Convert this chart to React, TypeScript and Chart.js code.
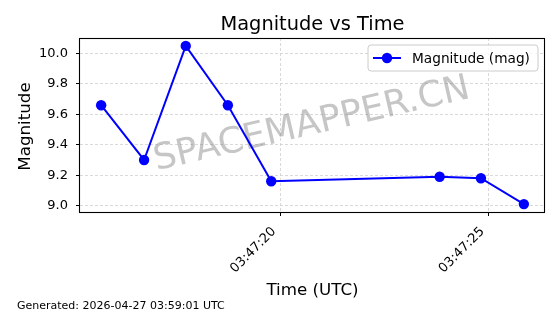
import React, { useEffect, useRef } from "react";
import { Chart, registerables } from "chart.js";

Chart.register(...registerables);

const TITLE = "Magnitude vs Time";
const X_TITLE = "Time (UTC)";
const Y_TITLE = "Magnitude";
const SERIES_LABEL = "Magnitude (mag)";
const WATERMARK = "SPACEMAPPER.CN";
const FOOTER = "Generated: 2026-04-27 03:59:01 UTC";

const times = [
  "03:47:15.70",
  "03:47:16.73",
  "03:47:17.73",
  "03:47:18.74",
  "03:47:19.78",
  "03:47:23.82",
  "03:47:24.81",
  "03:47:25.84",
];
const magnitudes = [9.66, 9.3, 10.05, 9.66, 9.16, 9.19, 9.18, 9.01];

const X_TICK_STEP = 5; // seconds
const Y_TICK_STEP = 0.2;

const FONT = "'DejaVu Sans', sans-serif";
const BLUE = "#0000ff";

function toSeconds(t: string): number {
  const [h, m, s] = t.split(":");
  return Number(h) * 3600 + Number(m) * 60 + Number(s);
}
function pad2(n: number): string {
  return String(n).padStart(2, "0");
}
function formatTime(v: number): string {
  const total = Math.round(v);
  const h = Math.floor(total / 3600);
  const m = Math.floor((total % 3600) / 60);
  const s = total % 60;
  return `${pad2(h)}:${pad2(m)}:${pad2(s)}`;
}

export default function App() {
  const ref = useRef<HTMLCanvasElement | null>(null);

  useEffect(() => {
    if (!ref.current) return;
    const xs = times.map(toSeconds);
    const points = xs.map((x, i) => ({ x, y: magnitudes[i] }));
    const xMinD = Math.min(...xs);
    const xMaxD = Math.max(...xs);
    const yMinD = Math.min(...magnitudes);
    const yMaxD = Math.max(...magnitudes);
    const xm = (xMaxD - xMinD) * 0.05;
    const ym = (yMaxD - yMinD) * 0.05;

    const decor = {
      id: "decor",
      beforeDatasetsDraw(chart: any) {
        const { ctx, chartArea } = chart;
        const cx = (chartArea.left + chartArea.right) / 2;
        const cy = (chartArea.top + chartArea.bottom) / 2;
        ctx.save();
        ctx.translate(cx + 1.5, cy + 9);
        ctx.rotate((-13 * Math.PI) / 180);
        ctx.font = `36px ${FONT}`;
        ctx.fillStyle = "rgba(128,128,128,0.45)";
        ctx.textAlign = "center";
        ctx.textBaseline = "alphabetic";
        ctx.fillText(WATERMARK, 0, 0);
        ctx.restore();
      },
      afterDraw(chart: any) {
        const { ctx, chartArea } = chart;
        const { left, right, top, bottom } = chartArea;
        const cx = (left + right) / 2;
        const cy = (top + bottom) / 2;
        ctx.save();
        // axes box
        ctx.strokeStyle = "#000";
        ctx.lineWidth = 1.1;
        ctx.strokeRect(left - 0.5, top + 0.5, right - left, bottom - top);

        // x tick labels (rotated 45°, right-aligned to the tick)
        const xs = chart.scales.x;
        ctx.fillStyle = "#000";
        ctx.font = `13px ${FONT}`;
        ctx.textAlign = "right";
        ctx.textBaseline = "alphabetic";
        for (const t of xs.ticks) {
          const px = xs.getPixelForValue(t.value);
          ctx.save();
          ctx.translate(px - 4, bottom + 20);
          ctx.rotate(-Math.PI / 4);
          ctx.fillText(formatTime(t.value), 0, 0);
          ctx.restore();
        }

        // title
        ctx.textAlign = "center";
        ctx.font = `19.4px ${FONT}`;
        ctx.fillText(TITLE, cx, 30);

        // x title
        ctx.font = `16.7px ${FONT}`;
        ctx.fillText(X_TITLE, cx, 295);

        // y title
        ctx.save();
        ctx.translate(29.5, cy + 1.5);
        ctx.rotate(-Math.PI / 2);
        ctx.fillText(Y_TITLE, 0, 0);
        ctx.restore();

        // legend
        const lw = 170;
        const lh = 26;
        const lx = right - 7 - lw;
        const ly = top + 7;
        ctx.beginPath();
        const r = 3;
        ctx.moveTo(lx + r, ly);
        ctx.lineTo(lx + lw - r, ly);
        ctx.quadraticCurveTo(lx + lw, ly, lx + lw, ly + r);
        ctx.lineTo(lx + lw, ly + lh - r);
        ctx.quadraticCurveTo(lx + lw, ly + lh, lx + lw - r, ly + lh);
        ctx.lineTo(lx + r, ly + lh);
        ctx.quadraticCurveTo(lx, ly + lh, lx, ly + lh - r);
        ctx.lineTo(lx, ly + r);
        ctx.quadraticCurveTo(lx, ly, lx + r, ly);
        ctx.closePath();
        ctx.fillStyle = "rgba(255,255,255,0.8)";
        ctx.fill();
        ctx.strokeStyle = "#cccccc";
        ctx.lineWidth = 1;
        ctx.stroke();

        const my = ly + 13;
        ctx.strokeStyle = BLUE;
        ctx.lineWidth = 2;
        ctx.beginPath();
        ctx.moveTo(lx + 5, my);
        ctx.lineTo(lx + 33, my);
        ctx.stroke();
        ctx.fillStyle = BLUE;
        ctx.beginPath();
        ctx.arc(lx + 19, my, 5.2, 0, Math.PI * 2);
        ctx.fill();

        ctx.fillStyle = "#000";
        ctx.textAlign = "left";
        ctx.font = `13.7px ${FONT}`;
        ctx.fillText(SERIES_LABEL, lx + 44, my + 5);

        // footer
        ctx.font = `11px ${FONT}`;
        ctx.fillText(FOOTER, 17, 308.5);
        ctx.restore();
      },
    };

    const gridCommon = {
      color: "#cfcfcf",
      lineWidth: 0.8,
      drawTicks: true,
      tickLength: 4,
      tickColor: "#000",
      tickWidth: 1,
      tickBorderDash: [],
    };
    const borderCommon = { display: false, dash: [3, 2] };

    const chart = new Chart(ref.current, {
      type: "line",
      data: {
        datasets: [
          {
            label: SERIES_LABEL,
            data: points,
            borderColor: BLUE,
            backgroundColor: BLUE,
            borderWidth: 2,
            pointRadius: 5.2,
            pointHoverRadius: 5.2,
            pointBackgroundColor: BLUE,
            pointBorderWidth: 0,
            tension: 0,
            fill: false,
          },
        ],
      },
      options: {
        animation: false,
        responsive: false,
        devicePixelRatio: 1,
        layout: { padding: { top: 38, right: 15, bottom: 0, left: 0 } },
        plugins: {
          legend: { display: false },
          title: { display: false },
          tooltip: { enabled: false },
        },
        scales: {
          x: {
            type: "linear",
            min: xMinD - xm,
            max: xMaxD + xm,
            border: borderCommon as any,
            grid: gridCommon as any,
            ticks: {
              display: false,
              stepSize: X_TICK_STEP,
              includeBounds: false,
              autoSkip: false,
              maxRotation: 0,
              callback: (v: any) => formatTime(Number(v)),
            },
            afterFit: (s: any) => {
              s.height = 102;
            },
          },
          y: {
            type: "linear",
            min: yMinD - ym,
            max: yMaxD + ym,
            border: borderCommon as any,
            grid: gridCommon as any,
            ticks: {
              stepSize: Y_TICK_STEP,
              includeBounds: false,
              padding: 8,
              color: "#000",
              font: { family: FONT, size: 13 },
              callback: (v: any) => Number(v).toFixed(1),
            },
            afterFit: (s: any) => {
              s.width = 80;
            },
          },
        },
      },
      plugins: [decor],
    });
    return () => chart.destroy();
  }, []);

  return (
    <div style={{ position: "absolute", left: 0, top: 0, width: 560, height: 314, background: "#fff" }}>
      <canvas ref={ref} width={560} height={314} style={{ width: 560, height: 314 }} />
    </div>
  );
}
